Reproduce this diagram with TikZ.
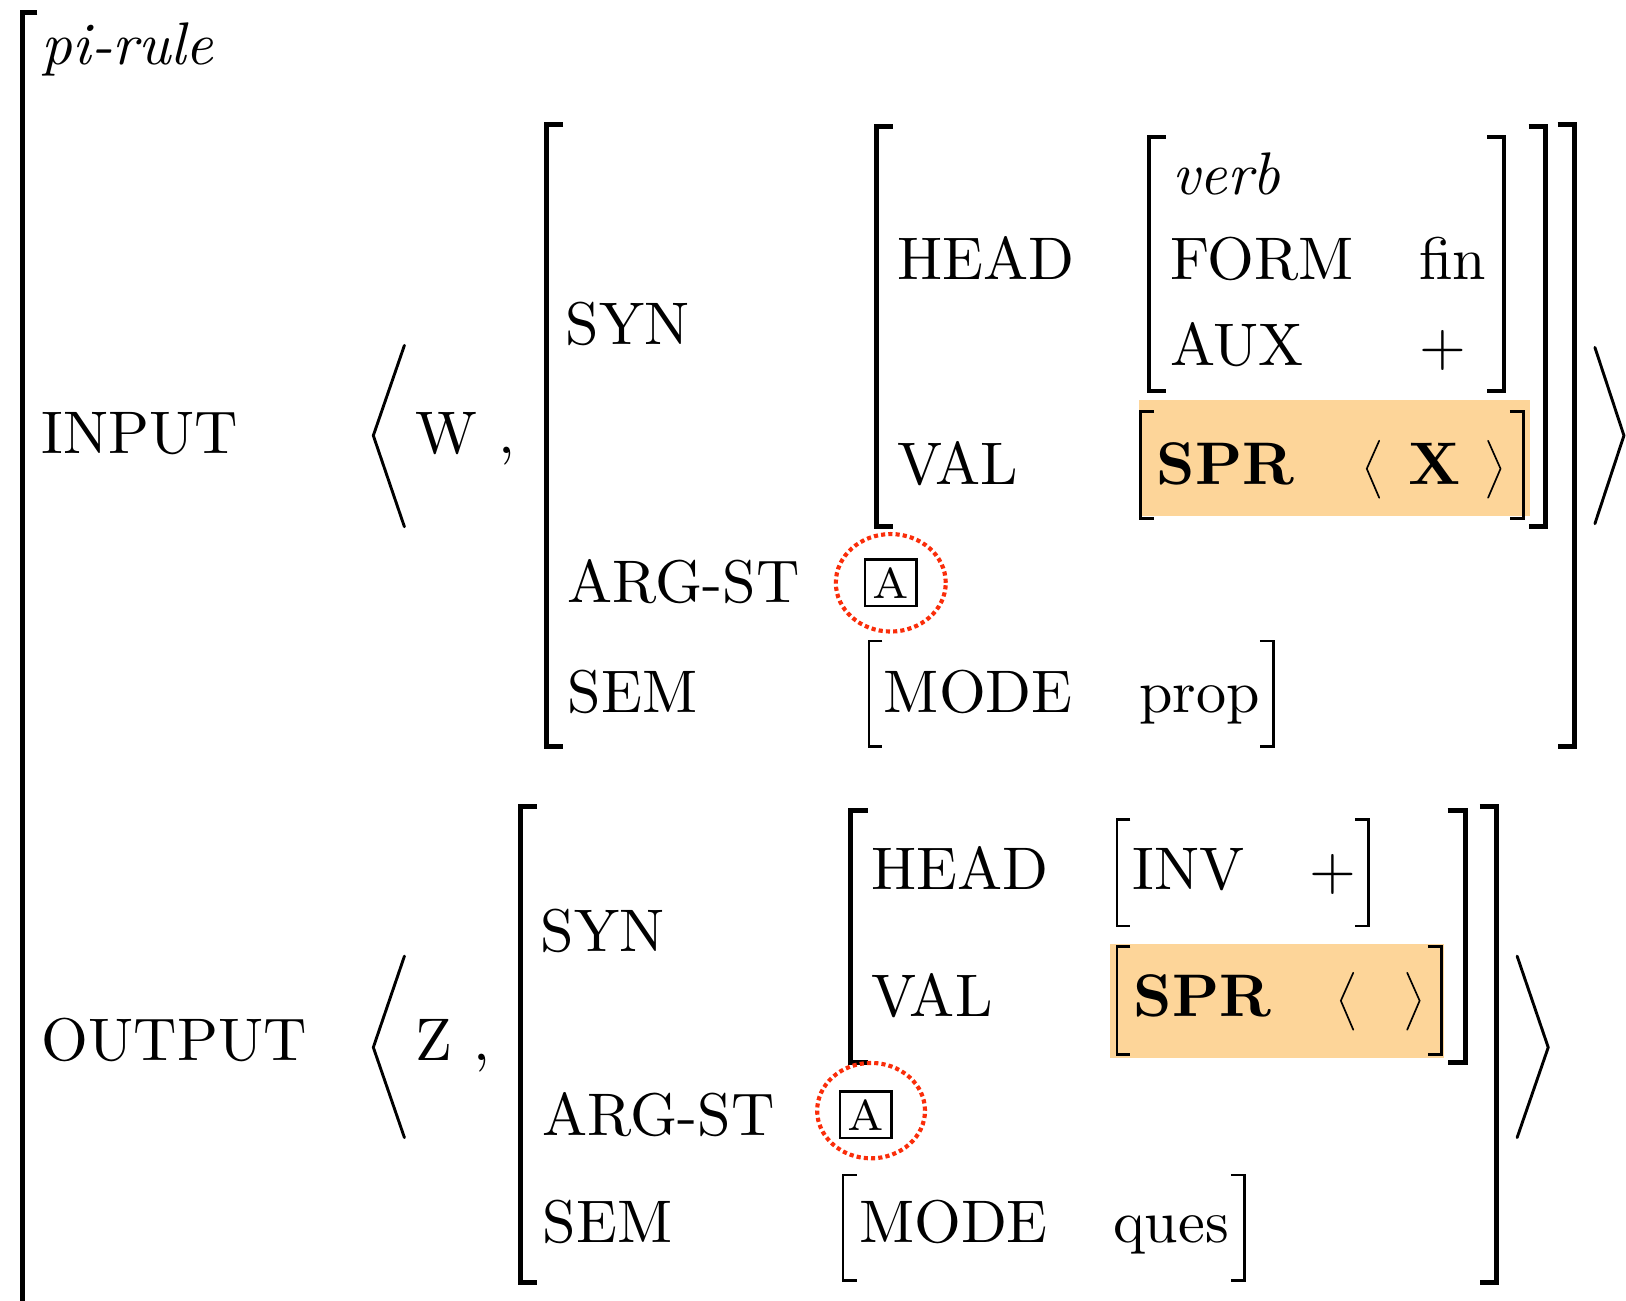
\documentclass[tikz,border=0pt]{standalone}
\newcommand\T[1]{\scalebox{2.9}{\fontsize{10}{12}\selectfont #1}}
\newcommand\TG[1]{\scalebox{2.9}{\fontsize{7.2}{9}\selectfont #1}}
\definecolor{ringred}{RGB}{250,45,10}
\definecolor{hl}{RGB}{253,213,153}
\tikzset{
 t/.style={anchor=base west, inner sep=0pt},
 bigbr/.style={line width=2.4pt},
 midbr/.style={line width=2pt},
 smallbr/.style={line width=1.3pt},
 anglebr/.style={line width=1.4pt, line cap=round},
 smallangle/.style={line width=0.8pt, line cap=round},
 ring/.style={draw=ringred, line width=2pt, dash pattern=on 2pt off 1.5pt},
 tagbox/.style={draw, line width=1.3pt, inner sep=0pt, minimum width=25pt, minimum height=22.5pt},
 hlbox/.style={fill=hl, draw=none}
}
\newcommand\LBr[5][]{\draw[#1] ({#2+#5},#3) -- (#2,#3) -- (#2,#4) -- ({#2+#5},#4);}
\newcommand\RBr[5][]{\draw[#1] ({#2-#5},#3) -- (#2,#3) -- (#2,#4) -- ({#2-#5},#4);}
\begin{document}
\begin{tikzpicture}[x=0.5pt,y=-0.5pt]
\useasboundingbox (0,0) rectangle (1568,1254);
% highlights
\fill[hlbox] (1098,386) rectangle (1475,498);
\fill[hlbox] (1070,910) rectangle (1392,1020);
% outer bracket
\draw[bigbr] (36,12) -- (22,12) -- (22,1275);
% texts, top
\node[t] (pirule) at (40,62) {\T{\itshape pi-rule}};
\node[t] (input) at (40,437) {\T{INPUT}};
\node[t] (w) at (400,437) {\T{W}};
\node[t] (c1) at (480,437) {\T{,}};
\node[t] (syn1) at (545,332) {\T{SYN}};
\node[t] (argst1) at (547,581) {\T{ARG-ST}};
\node[t] (sem1) at (547,687) {\T{SEM}};
\node[t] (head1) at (865,270) {\T{HEAD}};
\node[t] (val1) at (865,467) {\T{VAL}};
\node[t] (verb) at (1130,188) {\T{\itshape verb}};
\node[t] (form) at (1128,270) {\T{FORM}};
\node[t] (fin) at (1368,270) {\T{fin}};
\node[t] (aux) at (1128,352) {\T{AUX}};
\node[t] (plus1) at (1368,352) {\T{+}};
\node[t] (spr1) at (1115,467) {\T{\bfseries SPR}};
\node[t] (x1) at (1358,467) {\T{\bfseries X}};
\node[t] (mode1) at (852,687) {\T{MODE}};
\node[t] (prop) at (1098,687) {\T{prop}};
% texts, bottom
\node[t] (output) at (40,1023) {\T{OUTPUT}};
\node[t] (z) at (400,1023) {\T{Z}};
\node[t] (c2) at (456,1023) {\T{,}};
\node[t] (syn2) at (521,918) {\T{SYN}};
\node[t] (argst2) at (523,1095) {\T{ARG-ST}};
\node[t] (sem2) at (523,1198) {\T{SEM}};
\node[t] (head2) at (840,858) {\T{HEAD}};
\node[t] (val2) at (840,980) {\T{VAL}};
\node[t] (inv) at (1092,858) {\T{INV}};
\node[t] (plus2) at (1262,858) {\T{+}};
\node[t] (spr2) at (1093,980) {\T{\bfseries SPR}};
\node[t] (mode2) at (828,1198) {\T{MODE}};
\node[t] (ques) at (1073,1198) {\T{ques}};
% small angle brackets (list delimiters)
\draw[smallangle] (1330,425) -- (1318,452) -- (1330,480);
\draw[smallangle] (1435,425) -- (1447,452) -- (1435,480);
\draw[smallangle] (1305,938) -- (1293,965) -- (1305,993);
\draw[smallangle] (1357,938) -- (1369,965) -- (1357,993);
% brackets, top
\LBr[bigbr]{527}{120}{720}{16}
\RBr[bigbr]{1518}{120}{720}{16}
\LBr[bigbr]{845}{122}{508}{16}
\RBr[bigbr]{1490}{122}{508}{16}
\LBr[midbr]{1108}{132}{377}{16}
\RBr[midbr]{1450}{132}{377}{16}
\LBr[smallbr]{1100}{397}{500}{13}
\RBr[smallbr]{1469}{397}{500}{13}
\LBr[smallbr]{838}{618}{720}{13}
\RBr[smallbr]{1228}{618}{720}{13}
% brackets, bottom
\LBr[bigbr]{502}{778}{1237}{16}
\RBr[bigbr]{1443}{778}{1237}{16}
\LBr[bigbr]{820}{782}{1025}{17}
\RBr[bigbr]{1413}{782}{1025}{17}
\LBr[smallbr]{1077}{790}{893}{13}
\RBr[smallbr]{1320}{790}{893}{13}
\LBr[smallbr]{1077}{913}{1017}{13}
\RBr[smallbr]{1390}{913}{1017}{13}
\LBr[smallbr]{813}{1133}{1235}{13}
\RBr[smallbr]{1200}{1133}{1235}{13}
% angle brackets
\draw[anglebr] (390,333) -- (360,420) -- (390,508);
\draw[anglebr] (1538,335) -- (1566,420) -- (1538,505);
\draw[anglebr] (390,922) -- (360,1010) -- (390,1097);
\draw[anglebr] (1463,922) -- (1493,1010) -- (1463,1097);
% tags
\node[tagbox] (tag1) at (859,562) {\TG{A}};
\draw[ring] (859,562) ellipse [x radius=26.5pt, y radius=23.5pt];
\node[tagbox] (tag2) at (835,1075) {\TG{A}};
\draw[ring] (840,1071) ellipse [x radius=26pt, y radius=23pt];
\end{tikzpicture}
\end{document}
